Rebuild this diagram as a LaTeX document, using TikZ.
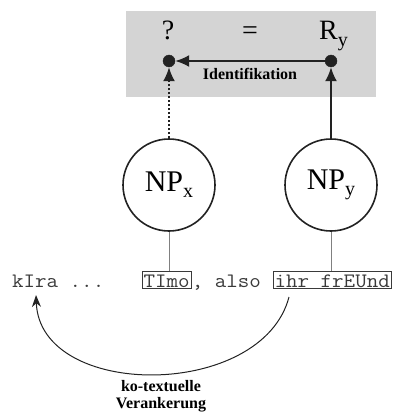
\documentclass[tikz,border=0pt]{standalone}
\usepackage{fontspec}
\setmainfont{Liberation Serif}
\setmonofont{Latin Modern Mono}[FakeStretch=1.09]
\usetikzlibrary{arrows.meta}

\definecolor{panel}{HTML}{D4D4D4}
\definecolor{ink}{HTML}{222222}
\definecolor{typeink}{HTML}{3A3A3A}
\newcommand\lowsub[2]{\raisebox{#1}{\fontsize{20}{20}\selectfont #2}}

\tikzset{
  bigserif/.style={font=\fontsize{28}{30}\selectfont, inner sep=0pt},
  npcircle/.style={draw=ink, line width=1.6pt, circle, minimum size=92pt, inner sep=0pt,
                   font=\fontsize{30}{32}\selectfont},
  refdot/.style={circle, fill=ink, draw=ink, minimum size=12pt, inner sep=0pt},
  typetext/.style={font=\ttfamily\fontsize{20.5}{22}\selectfont, text=typeink,
                   text height=14pt, text depth=0pt, inner ysep=1.7pt, inner xsep=1.6pt},
  wordbox/.style={typetext, draw=typeink, line width=0.8pt},
  boldlabel/.style={font=\bfseries\fontsize{16}{17}\selectfont, inner sep=0pt},
  bigarrow/.style={ink, line width=2pt, -{Latex[length=14pt,width=12pt]}},
  stem/.style={gray, line width=1pt},
}

\begin{document}
\begin{tikzpicture}[x=1pt, y=-1pt]
  \useasboundingbox (0,0) rectangle (394,412);

  % referent panel
  \fill[panel] (126,11) rectangle (376,97);
  \node[bigserif, anchor=base] (q) at (168,40) {?};
  \node[bigserif, anchor=base] (eq) at (250,40) {=};
  \node[bigserif, anchor=base west] (ry) at (319,40) {R\lowsub{-7pt}{y}};

  \node[refdot] (dq) at (169,61) {};
  \node[refdot] (dr) at (331,61) {};
  \draw[bigarrow] (dr) -- (dq);
  \node[boldlabel, anchor=base] (ident) at (250,79) {Identifikation};

  % noun phrases
  \node[npcircle] (npx) at (169,185) {NP\lowsub{-6pt}{x}};
  \node[npcircle] (npy) at (331,185) {NP\lowsub{-6pt}{y}};

  \draw[bigarrow, dash pattern=on 2pt off 2pt] (npx) -- (dq);
  \draw[bigarrow] (npy) -- (dr);

  % the text line
  \node[typetext, anchor=base west, inner xsep=0pt] (kira) at (12,287) {kIra ...};
  \node[wordbox, anchor=base west] (timo) at (141.7,287) {TImo};
  \node[typetext, anchor=base west, inner xsep=0pt] (also) at (timo.base east) {, also};
  \node[wordbox, anchor=base west] (freund) at (272.7,287) {ihr frEUnd};

  \draw[stem] (npx) -- (npx.south |- timo.north);
  \draw[stem] (npy) -- (npy.south |- freund.north);

  % anaphoric link back in the text
  \coordinate (linkstart) at (289,297);
  \coordinate (linkend) at (36,295);
  \draw[ink, line width=1pt, -{Stealth[length=12pt,width=9pt]}]
    (linkstart) .. controls (262,400) and (40,400) .. (linkend);
  \node[boldlabel, align=center, anchor=north] (anchorlabel) at (161,380)
    {ko-textuelle\\Verankerung};
\end{tikzpicture}
\end{document}
